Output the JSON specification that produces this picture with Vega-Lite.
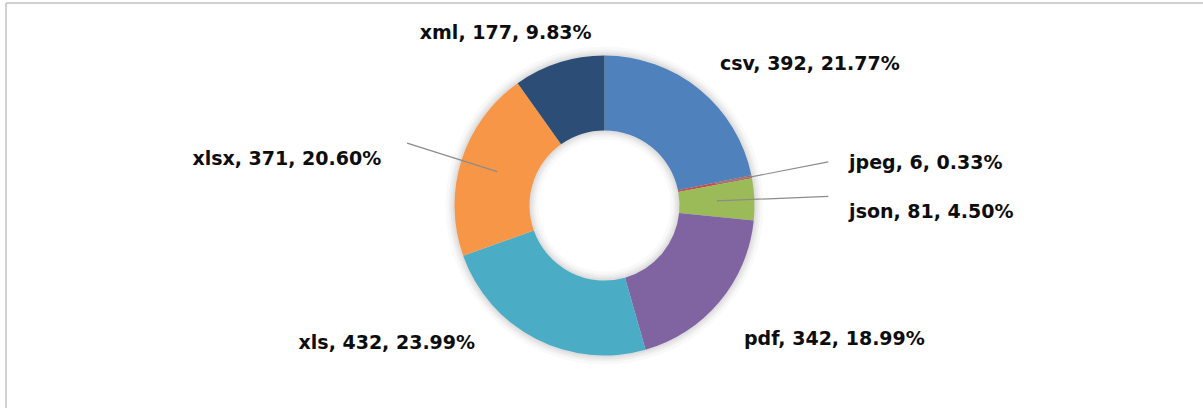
{
  "$schema": "https://vega.github.io/schema/vega-lite/v6.json",
  "width": 1197,
  "height": 405,
  "autosize": "none",
  "padding": {"left": 6, "top": 3, "right": 0, "bottom": 0},
  "background": "#ffffff",
  "view": {"stroke": "#c4c4c4", "strokeWidth": 1.5, "strokeDash": [1197, 1602, 405, 0]},
  "config": {
    "text": {"font": "DejaVu Sans", "fontWeight": "bold", "fontSize": 19, "color": "#0d0d0d", "align": "center", "baseline": "alphabetic"}
  },
  "data": {
    "values": [
      {"type": "csv", "count": 392, "label": "csv, 392, 21.77%"},
      {"type": "jpeg", "count": 6, "label": "jpeg, 6, 0.33%"},
      {"type": "json", "count": 81, "label": "json, 81, 4.50%"},
      {"type": "pdf", "count": 342, "label": "pdf, 342, 18.99%"},
      {"type": "xls", "count": 432, "label": "xls, 432, 23.99%"},
      {"type": "xlsx", "count": 371, "label": "xlsx, 371, 20.60%"},
      {"type": "xml", "count": 177, "label": "xml, 177, 9.83%"}
    ]
  },
  "encoding": {
    "theta": {"field": "count", "type": "quantitative", "stack": true},
    "order": {"field": "type", "type": "nominal", "sort": "ascending"},
    "detail": {"field": "type", "type": "nominal"}
  },
  "layer": [
    {"mark": {"type": "arc", "innerRadius": 66, "outerRadius": 159, "color": "#000000", "opacity": 0.025}},
    {"mark": {"type": "arc", "innerRadius": 69, "outerRadius": 156, "color": "#000000", "opacity": 0.03}},
    {"mark": {"type": "arc", "innerRadius": 71, "outerRadius": 154, "color": "#000000", "opacity": 0.035}},
    {"mark": {"type": "arc", "innerRadius": 73, "outerRadius": 152, "color": "#000000", "opacity": 0.04}},
    {
      "mark": {"type": "arc", "innerRadius": 75, "outerRadius": 150},
      "encoding": {
        "color": {
          "field": "type",
          "type": "nominal",
          "scale": {
            "domain": ["csv", "jpeg", "json", "pdf", "xls", "xlsx", "xml"],
            "range": ["#4F81BD", "#C0504D", "#9BBB59", "#8064A2", "#4BACC6", "#F79646", "#2C4D75"]
          },
          "legend": null
        }
      }
    },
    {
      "mark": {"type": "arc", "innerRadius": 112.5, "outerRadius": 228, "padAngle": 2, "fill": "#8c8c8c", "stroke": "#8c8c8c", "strokeWidth": 1.2},
      "encoding": {"opacity": {"condition": {"test": "datum.type === 'jpeg'", "value": 1}, "value": 0}}
    },
    {
      "mark": {"type": "arc", "innerRadius": 112.5, "outerRadius": 224, "padAngle": 2, "fill": "#8c8c8c", "stroke": "#8c8c8c", "strokeWidth": 1.2},
      "encoding": {"opacity": {"condition": {"test": "datum.type === 'json'", "value": 1}, "value": 0}}
    },
    {
      "mark": {"type": "arc", "innerRadius": 112.5, "outerRadius": 207, "padAngle": 2, "fill": "#8c8c8c", "stroke": "#8c8c8c", "strokeWidth": 1.2},
      "encoding": {"opacity": {"condition": {"test": "datum.type === 'xlsx'", "value": 1}, "value": 0}}
    },
    {
      "mark": {"type": "text", "radius": 200, "dx": 79, "dy": 19.5},
      "encoding": {"text": {"field": "label", "type": "nominal", "condition": {"test": "datum.type !== 'csv'", "value": ""}}}
    },
    {
      "mark": {"type": "text", "radius": 200, "dx": 125, "dy": 2},
      "encoding": {"text": {"field": "label", "type": "nominal", "condition": {"test": "datum.type !== 'jpeg'", "value": ""}}}
    },
    {
      "mark": {"type": "text", "radius": 200, "dx": 127, "dy": 20.5},
      "encoding": {"text": {"field": "label", "type": "nominal", "condition": {"test": "datum.type !== 'json'", "value": ""}}}
    },
    {
      "mark": {"type": "text", "radius": 200, "dx": 76.5, "dy": 11},
      "encoding": {"text": {"field": "label", "type": "nominal", "condition": {"test": "datum.type !== 'pdf'", "value": ""}}}
    },
    {
      "mark": {"type": "text", "radius": 200, "dx": -126, "dy": -34},
      "encoding": {"text": {"field": "label", "type": "nominal", "condition": {"test": "datum.type !== 'xls'", "value": ""}}}
    },
    {
      "mark": {"type": "text", "radius": 200, "dx": -127, "dy": 20},
      "encoding": {"text": {"field": "label", "type": "nominal", "condition": {"test": "datum.type !== 'xlsx'", "value": ""}}}
    },
    {
      "mark": {"type": "text", "radius": 200, "dx": -38, "dy": 24},
      "encoding": {"text": {"field": "label", "type": "nominal", "condition": {"test": "datum.type !== 'xml'", "value": ""}}}
    }
  ]
}
